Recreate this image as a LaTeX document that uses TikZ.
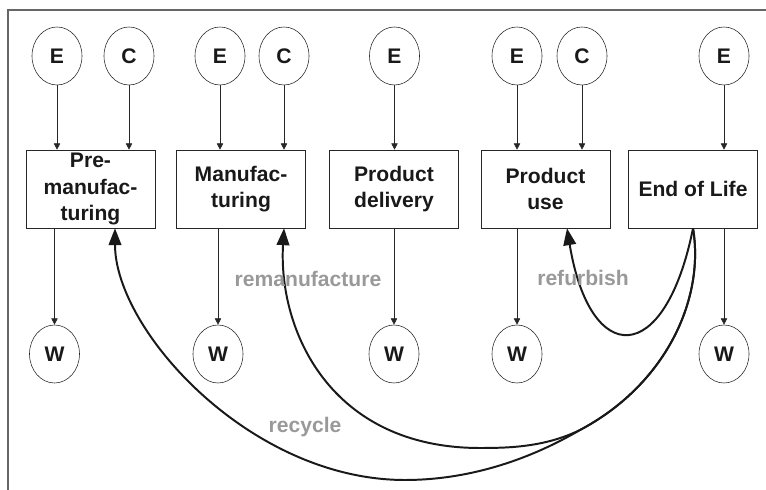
\documentclass[tikz,border=0pt]{standalone}
\usepackage{fontspec}
\setmainfont{Liberation Sans}
\usetikzlibrary{calc, arrows.meta, shapes.geometric}
\tikzset{
	x = 0.025cm,
	y = 0.025cm,
	line width = .6pt,
	font = \bfseries\fontsize{15}{19}\selectfont,
	letter/.style={
		draw=black!85,
		ellipse,
		minimum width=1.25cm,
		minimum height=1.45cm,
		inner sep=0pt,
		text=black!90,
		font=\bfseries\fontsize{15}{17}\selectfont
	},
	stage/.style={
		draw=black!85,
		rectangle,
		minimum width=3.225cm,
		minimum height=1.95cm,
		inner sep=0pt,
		align=center,
		text=black!90
	},
	edge/.style={
		-{Triangle[length=4.5pt,width=4.5pt]},
		draw=black!85
	},
	route/.style={
		-{Triangle[length=12pt,width=9pt]},
		line width=1.4pt,
		draw=black!90
	},
	tag/.style={
		text=black!40
	}
}

\begin{document}
\begin{tikzpicture}
\useasboundingbox (0,0) rectangle (766,490);
\draw[black!60, line width=1pt] (766,480) -- (8,480) -- (8,0);

\node[stage] (pre) at (90.5,301) {Pre-\\manufac-\\turing};
\node[stage] (manu) at (241,301) {Manufac-\\turing};
\node[stage] (deliv) at (394,301) {Product\\delivery};
\node[stage] (use) at (545.5,301) {Product\\use};
\node[stage] (eol) at (693,301) {End of Life};

\node[letter] (e1) at (57,434) {E};
\node[letter] (c1) at (129,434) {C};
\node[letter] (e2) at (220,434) {E};
\node[letter] (c2) at (284,434) {C};
\node[letter] (e3) at (394.5,434) {E};
\node[letter] (e4) at (517,434) {E};
\node[letter] (c4) at (582,434) {C};
\node[letter] (e5) at (724,434) {E};

\node[letter] (w1) at (54.5,136) {W};
\node[letter] (w2) at (218,136) {W};
\node[letter] (w3) at (394,136) {W};
\node[letter] (w4) at (517,136) {W};
\node[letter] (w5) at (724,136) {W};

\draw[edge] (e1) -- (e1 |- pre.north);
\draw[edge] (c1) -- (c1 |- pre.north);
\draw[edge] (e2) -- (e2 |- manu.north);
\draw[edge] (c2) -- (c2 |- manu.north);
\draw[edge] (e3) -- (e3 |- deliv.north);
\draw[edge] (e4) -- (e4 |- use.north);
\draw[edge] (c4) -- (c4 |- use.north);
\draw[edge] (e5) -- (e5 |- eol.north);

\draw[edge] (pre.south -| w1) -- (w1);
\draw[edge] (manu.south -| w2) -- (w2);
\draw[edge] (deliv.south -| w3) -- (w3);
\draw[edge] (use.south -| w4) -- (w4);
\draw[edge] (eol.south -| w5) -- (w5);

\coordinate (split) at (580,60);
\draw[route] (eol.south) .. controls (665,122) and (590,122) .. ($(use.south)+(21.5,0)$);
\draw[route] (eol.south) .. controls (705,190) and (665,105) .. (split)
	.. controls (545,43) and (510,42) .. (480,42)
	.. controls (330,42) and (278,160) .. ($(manu.south)+(43,0)$);
\draw[route] (eol.south) .. controls (705,190) and (665,105) .. (split)
	.. controls (520,25) and (460,10) .. (405,10)
	.. controls (250,10) and (115,160) .. ($(pre.south)+(24.5,0)$);

\node[tag] (reman) at (308,211) {remanufacture};
\node[tag] (refurb) at (583,212) {refurbish};
\node[tag] (recyc) at (305,63) {recycle};
\end{tikzpicture}
\end{document}
